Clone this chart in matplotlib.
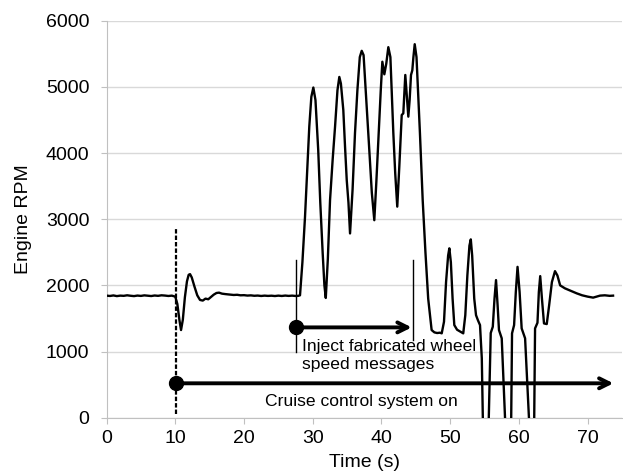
import matplotlib
matplotlib.use("Agg")
import matplotlib.pyplot as plt

plt.rcParams['font.family'] = ['Liberation Sans', 'DejaVu Sans']

# engine rpm trace (time in s, rpm)
time_s = [0, 0.5, 1, 1.5, 2, 2.5, 3, 3.5, 4, 4.5, 5, 5.5, 6, 6.5, 7, 7.5, 8, 8.5, 9, 9.5,
          10.0, 10.3, 10.6, 10.84, 11.1, 11.4, 11.7, 11.95, 12.15, 12.4, 12.8, 13.2, 13.6, 14.0,
          14.4, 14.8, 15.2, 15.6, 16.0, 16.37, 16.8, 17.3, 18, 18.5, 19, 19.5, 20, 20.5, 21,
          21.5, 22, 22.5, 23, 23.5, 24, 24.5, 25, 25.5, 26, 26.5, 27, 27.5, 27.9,
          28.15, 28.5, 28.88, 29.2, 29.5, 29.8, 30.09, 30.4, 30.8, 31.1, 31.45, 31.7, 31.9,
          32.2, 32.52, 32.9, 33.25, 33.6, 33.87, 34.1, 34.45, 34.7, 34.95, 35.2, 35.43,
          35.8, 36.15, 36.5, 36.85, 37.13, 37.4, 37.8, 38.2, 38.6, 38.96, 39.25, 39.55,
          39.9, 40.13, 40.42, 40.7, 41.0, 41.3, 41.73, 42.0, 42.3, 42.6, 42.95, 43.18,
          43.47, 43.7, 43.91, 44.1, 44.3, 44.49, 44.65, 44.84, 45.1, 45.6, 46.0, 46.4,
          46.8, 47.3, 47.7, 48.1, 48.5, 48.77, 49.1, 49.4, 49.7, 49.88, 50.1, 50.35, 50.6,
          51.0, 51.5, 51.9, 52.2, 52.5, 52.8, 53.0, 53.2, 53.5, 53.76, 54.05, 54.34, 54.6,
          54.8, 55.2, 55.55, 55.9, 56.2, 56.45, 56.67, 56.9, 57.1, 57.5, 58.1, 58.5, 58.85,
          59.0, 59.3, 59.55, 59.8, 60.1, 60.4, 60.9, 61.6, 61.9, 62.2, 62.35, 62.7, 62.9,
          63.1, 63.35, 63.65, 64.05, 64.4, 64.8, 65.25, 65.6, 66.0, 66.7, 67.5, 68.4, 69.2,
          70.0, 70.8, 71.3, 71.8, 72.5, 73.2, 73.7]
rpm = [1845, 1840, 1848, 1838, 1845, 1842, 1850, 1843, 1838, 1846, 1841, 1849, 1844, 1839, 1847, 1842, 1850, 1846, 1840, 1845,
       1830, 1720, 1480, 1325, 1480, 1820, 2060, 2160, 2170, 2120, 1980, 1850, 1780, 1770,
       1800, 1790, 1825, 1860, 1885, 1890, 1875, 1868, 1860, 1855, 1858, 1850, 1852, 1846, 1849,
       1843, 1846, 1840, 1845, 1841, 1844, 1839, 1845, 1840, 1846, 1841, 1845, 1840, 1842,
       1850, 2350, 3040, 3750, 4400, 4850, 4990, 4800, 4045, 3250, 2485, 2000, 1810,
       2400, 3290, 3900, 4400, 4950, 5150, 5050, 4650, 4100, 3590, 3250, 2785,
       3450, 4300, 4950, 5450, 5545, 5480, 4800, 4100, 3400, 2985, 3550, 4195,
       4950, 5380, 5190, 5350, 5600, 5450, 4300, 3700, 3190, 3800, 4575, 4600,
       5180, 4850, 4550, 4800, 5180, 5250, 5450, 5645, 5450, 4300, 3290, 2500,
       1800, 1325, 1290, 1280, 1285, 1275, 1450, 2050, 2450, 2560, 2350, 1800, 1400,
       1330, 1300, 1275, 1550, 2150, 2600, 2695, 2450, 1800, 1550, 1470, 1400, 900,
       -300, -400, -300, 1280, 1375, 1800, 2080, 1700, 1325, 1200, -300, -400, -300,
       1275, 1400, 1900, 2280, 1900, 1350, 1200, -300, -400, -300, 1350, 1435, 1900,
       2140, 1800, 1425, 1415, 1700, 2050, 2215, 2150, 2000, 1955, 1920, 1880, 1850,
       1830, 1815, 1830, 1845, 1850, 1842, 1845]

cruise_on = 10.1
inject_start = 27.5
inject_end = 44.64

fig = plt.figure(figsize=(6.23, 4.75), dpi=100)
ax = fig.add_axes([0.171, 0.1206, 0.8274, 0.8358])

ax.plot(time_s, rpm, color='black', lw=1.7, zorder=3)

# cruise control marker
ax.plot([cruise_on, cruise_on], [50, 2870], color='black', lw=1.6, dashes=(2, 0.9), zorder=4)
ax.plot(cruise_on, 520, 'o', color='black', ms=10, zorder=5)
ax.annotate('', xy=(73.75, 520), xytext=(cruise_on, 520),
            arrowprops=dict(arrowstyle='->', lw=2.8, color='black',
                            shrinkA=0, shrinkB=0, mutation_scale=18), zorder=4)
ax.text(37.1, 177, 'Cruise control system on', fontsize=12.6, ha='center', va='baseline')

# injection window
ax.plot([inject_start, inject_start], [1000, 2380], color='black', lw=1, zorder=4)
ax.plot([inject_end, inject_end], [1175, 2380], color='black', lw=1, zorder=4)
ax.plot(inject_start, 1365, 'o', color='black', ms=10, zorder=5)
ax.annotate('', xy=(44.4, 1365), xytext=(inject_start, 1365),
            arrowprops=dict(arrowstyle='->', lw=2.8, color='black',
                            shrinkA=0, shrinkB=0, mutation_scale=18), zorder=4)
ax.text(28.4, 1195, 'Inject fabricated wheel\nspeed messages', fontsize=12.6,
        ha='left', va='top', linespacing=1.3)

ax.set_xlim(0, 75)
ax.set_ylim(0, 6000)
ax.set_xticks(range(0, 80, 10))
ax.set_yticks(range(0, 7000, 1000))
ax.set_xlabel('Time (s)', fontsize=14, labelpad=5)
ax.set_ylabel('Engine RPM', fontsize=14, labelpad=10)

ax.grid(axis='y', color='#d9d9d9', lw=1)
ax.set_axisbelow(True)
for side in ['top', 'right']:
    ax.spines[side].set_visible(False)
for side in ['left', 'bottom']:
    ax.spines[side].set_color('#c0c0c0')
ax.tick_params(labelsize=14, length=4.3, color='#c0c0c0')
ax.tick_params(axis='x', pad=4.5)
ax.tick_params(axis='y', pad=8)

plt.savefig('out.png', dpi=100)
